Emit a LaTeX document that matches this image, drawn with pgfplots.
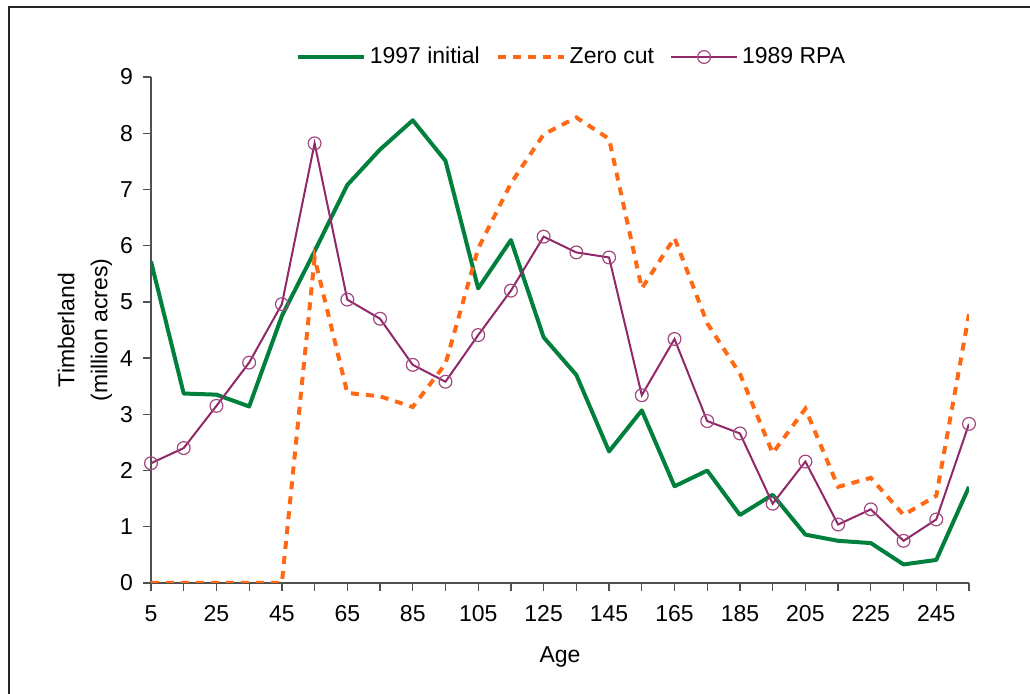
\documentclass[border=0pt]{standalone}
\usepackage{pgfplots}
\usepackage{pgfplotstable}
\usepackage{fontspec}
\setmainfont{Liberation Sans}
\pgfplotsset{compat=1.18}

\definecolor{initgreen}{RGB}{0,128,60}
\definecolor{zerocut}{RGB}{255,105,20}
\definecolor{rpaplum}{RGB}{145,40,105}
\definecolor{axisgray}{RGB}{80,80,80}

% Timberland area (million acres) by stand age class
\pgfplotstableread{
age initial zero rpa
5   5.72 0    2.13
15  3.37 0    2.40
25  3.35 0    3.15
35  3.14 0    3.92
45  4.75 0    4.96
55  5.90 5.78 7.82
65  7.08 3.38 5.04
75  7.71 3.32 4.70
85  8.23 3.13 3.88
95  7.51 3.90 3.58
105 5.24 5.95 4.41
115 6.10 7.11 5.20
125 4.37 7.98 6.16
135 3.70 8.28 5.88
145 2.34 7.90 5.79
155 3.07 5.24 3.34
165 1.72 6.14 4.34
175 2.00 4.62 2.88
185 1.21 3.72 2.66
195 1.57 2.31 1.41
205 0.86 3.10 2.16
215 0.75 1.71 1.04
225 0.71 1.87 1.31
235 0.33 1.21 0.75
245 0.41 1.55 1.13
255 1.71 4.78 2.83
}\agedata

\begin{document}
\begin{tikzpicture}
\path[use as bounding box] (0pt,0pt) rectangle (515pt,347pt);
% outer frame (top and left edges)
\draw[black!85,line width=1pt] (4.25pt,0pt) -- (4.25pt,343.25pt) -- (515pt,343.25pt);

\begin{axis}[
  at={(75.5pt,55.5pt)}, anchor=south west,
  scale only axis, width=409pt, height=253pt,
  xmin=5, xmax=255, ymin=0, ymax=9,
  axis lines=left,
  axis line style={-, draw=axisgray, line width=0.65pt},
  tick style={draw=axisgray, line width=0.65pt},
  tick align=outside,
  major tick length=4pt, minor tick length=4pt,
  xtick={5,25,...,245},
  minor xtick={15,35,...,255},
  ytick={0,1,...,9},
  /pgf/number format/assume math mode=true,
  tick label style={font=\fontsize{11.5}{13}\selectfont, black},
  xticklabel style={anchor=base, yshift=-15.5pt},
  yticklabel style={xshift=-1.5pt},
  xlabel={Age},
  xlabel style={at={(axis description cs:0.5,-0.158)}, anchor=base, font=\fontsize{11.5}{13}\selectfont},
  ylabel={Timberland\\(million acres)},
  ylabel style={at={(axis description cs:-0.0807,0.5)}, anchor=center, align=center, font=\fontsize{11.5}{16.5}\selectfont},
  legend columns=3,
  legend style={at={(axis description cs:0.5153,1.0395)}, anchor=center, draw=none, fill=none,
    font=\fontsize{11.5}{13}\selectfont,
    /tikz/every even column/.append style={column sep=6pt}},
  legend image code/.code={%
    \draw[mark repeat=2,mark phase=2,#1] plot coordinates {(0pt,0pt) (16.5pt,0pt) (33pt,0pt)};},
]
\addplot[initgreen, line width=2pt, line join=round] table[x=age,y=initial] {\agedata};
\addlegendentry{1997 initial}
\addplot[zerocut, line width=2pt, dash pattern=on 4pt off 3.5pt] table[x=age,y=zero] {\agedata};
\addlegendentry{Zero cut}
\addplot[rpaplum, line width=1pt, mark=o, mark size=3.2pt,
  mark options={solid, draw=rpaplum!85!white, line width=0.6pt}] table[x=age,y=rpa] {\agedata};
\addlegendentry{1989 RPA}
\end{axis}
\end{tikzpicture}
\end{document}
